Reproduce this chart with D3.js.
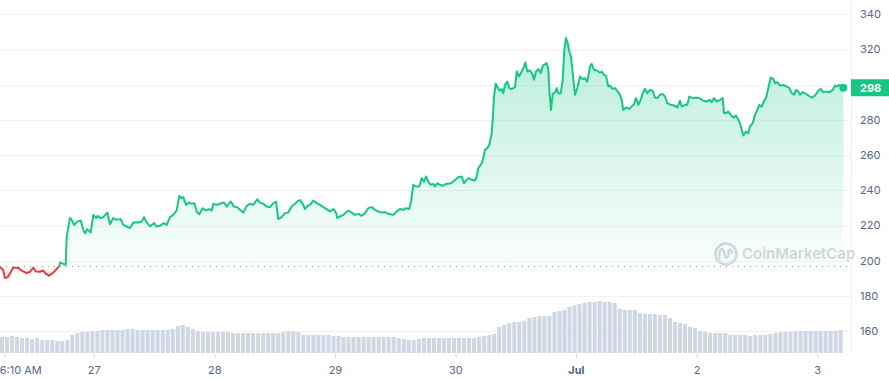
<!DOCTYPE html>
<html><head><meta charset="utf-8">
<script src="https://cdn.jsdelivr.net/npm/d3@7"></script>
<style>
html,body{margin:0;padding:0;background:#fff;overflow:hidden}
svg{display:block;font-family:Inter,"Noto Sans",sans-serif}
</style>
</head><body>
<svg id="chart" width="889" height="380"></svg>
<script>
// ---- data ----
const startTime = "2023-06-26T05:19";
const endTime = "2023-07-03T05:14";
const openPrice = 196.8;
const priceHours = [0,0.6,1,1.65,2.65,3.64,4.32,5.32,5.97,6.63,7.17,7.96,8.62,8.96,9.82,10.61,11.29,11.81,11.95,12.6,13.08,13.28,13.94,14.28,14.73,15.39,16.07,16.59,16.93,17.38,18.06,18.58,19.12,19.45,19.91,20.57,21.37,21.9,22.56,23.24,24.03,24.55,25.23,25.89,26.54,27.54,28.22,28.67,29.21,29.87,30.66,31.2,31.86,32.52,33.19,33.85,34.51,35.18,35.7,36.18,36.5,37.04,37.69,38.17,38.69,39.17,39.69,40.36,41.02,41.68,42.15,42.47,43.15,43.81,44.6,45.14,45.94,46.59,47.25,47.79,48.45,49.12,49.78,50.44,51.23,51.77,52.43,53.11,53.76,54.3,54.96,55.42,56.09,56.75,57.41,58.08,58.74,59.4,59.74,60.39,60.73,61.19,61.73,62.38,63.06,63.72,64.38,65.05,65.71,66.37,66.9,67.16,67.7,68.36,69.35,70.03,70.69,71.35,72.02,72.68,73.34,74.01,74.67,75.33,76,76.66,77.32,78.31,78.99,79.65,80.31,80.84,81.5,81.84,82.3,82.83,83.49,83.97,84.43,84.83,85.28,85.76,86.28,86.62,87.08,87.61,88.15,88.81,89.6,90.26,91.26,91.93,92.39,92.93,93.25,93.92,94.58,94.92,95.24,95.92,96.24,96.57,97.03,97.43,97.91,98.11,98.37,98.7,99.02,99.42,99.9,100.22,100.55,101.01,101.41,101.89,102.55,102.89,103.34,103.88,104.34,104.6,104.99,105.53,106.07,106.33,106.73,107.19,107.66,108.06,108.86,109.18,109.38,109.72,110.05,110.51,110.85,111.17,111.65,112.05,112.36,112.7,113.04,113.36,113.7,114.04,114.49,114.95,115.49,116.03,116.49,116.94,117.48,117.82,118.28,118.81,119.47,119.81,120.27,120.67,121.12,121.46,121.99,122.46,122.91,123.45,123.79,124.11,124.65,125.31,125.78,126.24,126.64,127.1,127.58,127.97,128.43,128.89,129.43,129.96,130.42,130.88,131.42,131.96,132.42,132.87,133.55,134.21,134.87,135.4,135.74,136.4,136.86,137.26,137.93,138.59,139.25,140.04,140.72,141.38,141.71,142.17,142.71,143.37,143.9,144.16,144.56,145.02,145.5,146.01,146.55,147.01,147.35,147.69,148.01,148.54,149,149.34,149.88,150.34,150.8,151.19,151.67,152.13,152.53,152.99,153.46,153.98,154.32,154.78,155.31,155.97,156.65,157.17,157.64,158.1,158.5,158.96,159.3,159.83,160.29,160.95,161.63,162.28,162.94,163.42,163.94,164.47,165.13,165.81,166.26,166.6,167.12,167.6,167.92];
const priceValues = [196.6,194.9,190.2,191.1,196.2,195.9,194.5,193.0,193.8,196.2,193.9,193.8,194.5,193.0,191.5,193.4,195.3,197.2,199.0,198.3,197.7,213.8,224.3,223.3,220.4,222.3,222.9,217.6,215.7,218.0,216.1,226.1,224.3,225.6,224.3,224.8,227.4,220.8,224.3,223.3,223.7,220.4,219.5,218.6,221.8,221.8,222.3,224.8,221.8,219.6,221.4,219.5,219.9,221.4,220.4,224.8,226.1,228.6,236.9,235.6,236.2,231.8,233.1,232.4,232.8,228.0,226.5,229.9,228.6,229.4,228.6,232.4,231.8,232.4,233.1,230.8,233.7,230.8,230.5,229.0,227.4,231.2,232.4,231.8,235.0,233.1,232.4,230.8,230.5,232.4,233.7,223.7,224.8,227.1,227.4,230.8,232.4,234.2,234.5,231.8,229.4,231.2,231.8,234.2,232.8,231.8,230.5,229.4,228.0,229.4,227.4,224.3,225.2,226.1,228.6,227.4,226.1,226.7,225.6,227.1,229.9,230.5,229.0,228.0,227.4,227.7,226.7,226.1,228.0,229.4,229.0,229.9,229.4,233.7,243.2,242.2,242.2,247.0,245.0,247.9,245.0,243.2,243.7,242.2,244.1,243.2,242.6,243.7,243.9,245.0,247.5,247.9,244.1,246.0,247.0,246.0,245.6,247.9,252.6,255.5,258.3,263.0,264.0,265.9,272.5,280.1,293.3,300.5,299.0,296.7,297.5,295.2,299.9,301.8,298.1,297.5,298.6,307.5,304.7,307.5,310.3,312.6,307.5,308.1,305.6,302.8,307.5,308.9,306.6,310.7,312.3,308.5,297.1,285.7,294.8,295.6,298.1,295.2,295.2,302.8,319.8,326.5,323.6,318.9,316.0,306.6,294.3,298.1,304.7,303.2,303.7,301.8,310.3,311.9,308.5,308.1,306.8,307.5,305.6,305.2,299.0,299.5,297.7,298.1,296.5,294.3,291.4,285.7,287.1,286.3,287.6,289.0,292.4,288.6,291.4,295.2,297.7,295.2,297.1,296.5,292.7,292.4,294.3,294.7,293.3,289.6,288.6,288.2,287.1,290.9,287.6,288.6,288.6,293.3,292.4,292.7,292.4,290.9,290.5,291.4,290.1,292.4,290.5,291.4,292.4,283.9,283.9,284.8,282.9,281.4,282.5,280.1,278.2,274.4,271.2,273.4,272.5,276.3,278.2,282.9,285.7,288.6,287.6,290.9,292.4,298.1,304.1,303.3,300.9,301.5,299.5,299.9,299.0,298.1,295.2,294.3,297.1,296.1,294.3,295.8,295.2,293.9,292.7,293.9,296.5,297.7,295.8,296.1,295.8,297.1,299.5,299.0,299.9,299.0,298.3];
// hourly volume (relative units)
const volumeValues = [16,16,17,16,15,15,14,15,13,13,13,12,12,13,18,20,21,21,22,22,23,23,23,23,23,24,24,23,23,23,23,23,23,23,24,27,28,26,24,22,21,21,21,21,21,21,20,20,20,20,20,20,20,20,20,20,21,22,22,21,18,18,18,18,18,18,17,17,16,16,16,16,16,16,16,16,16,16,16,15,14,13,13,14,15,15,15,15,15,15,15,15,15,15,15,16,17,18,19,26,28,30,31,31,32,35,36,37,37,37,41,42,43,46,48,49,50,51,51,52,51,51,50,44,43,43,43,40,39,39,39,38,38,35,31,30,29,26,25,22,21,20,20,20,20,18,18,18,18,17,18,18,18,19,20,21,21,21,22,22,22,22,22,22,22,22,22,23];
const yTickValues = [160,180,200,220,240,260,280,300,320,340];
const xTickTimes = ["2023-06-26T06:10","2023-06-27T00:00","2023-06-28T00:00","2023-06-29T00:00","2023-06-30T00:00","2023-07-01T00:00","2023-07-02T00:00","2023-07-03T00:00"];
const xTickLabels = ["6:10 AM","27","28","29","30","Jul","2","3"];
const watermarkText = "CoinMarketCap";

// ---- setup ----
const W = 889, H = 380;
const plotRight = 851, volBase = 353;
const GREEN = "#16c784", RED = "#ea3943";
const parse = d3.timeParse("%Y-%m-%dT%H:%M");
const t0 = parse(startTime), t1 = parse(endTime);
const HOUR = 3600e3;
const x = d3.scaleTime().domain([t0, t1]).range([0, 843.3]);
const y = d3.scaleLinear().domain([160, 340]).range([331.3, 14.3]);
const yVol = d3.scaleLinear().domain([0, 100]).range([volBase, volBase - 100]);

const data = priceHours.map((h, i) => ({t: new Date(+t0 + h * HOUR), v: priceValues[i]}));
const vols = volumeValues.map((v, i) => ({t: new Date(+t0 + i * HOUR), v}));

const svg = d3.select("#chart");
const defs = svg.append("defs");
const yOpen = y(openPrice);

defs.append("clipPath").attr("id","clipUp").append("rect")
  .attr("x",-5).attr("y",0).attr("width",plotRight+5).attr("height",yOpen);
defs.append("clipPath").attr("id","clipDown").append("rect")
  .attr("x",-5).attr("y",yOpen).attr("width",plotRight+5).attr("height",H-yOpen);

const gUp = defs.append("linearGradient").attr("id","gUp")
  .attr("gradientUnits","userSpaceOnUse").attr("x1",0).attr("x2",0).attr("y1",y(326)).attr("y2",yOpen);
gUp.append("stop").attr("offset",0).attr("stop-color",GREEN).attr("stop-opacity",0.3);
gUp.append("stop").attr("offset",1).attr("stop-color",GREEN).attr("stop-opacity",0.02);
const gDown = defs.append("linearGradient").attr("id","gDown")
  .attr("gradientUnits","userSpaceOnUse").attr("x1",0).attr("x2",0).attr("y1",yOpen).attr("y2",y(188));
gDown.append("stop").attr("offset",0).attr("stop-color",RED).attr("stop-opacity",0.02);
gDown.append("stop").attr("offset",1).attr("stop-color",RED).attr("stop-opacity",0.15);

// gridlines
svg.append("g").selectAll("line").data(yTickValues).join("line")
  .attr("x1",0).attr("x2",plotRight)
  .attr("y1",d=>Math.round(y(d))+0.5).attr("y2",d=>Math.round(y(d))+0.5)
  .attr("stroke","#eff2f5").attr("stroke-width",1);

// right axis border line
svg.append("line").attr("x1",plotRight+0.5).attr("x2",plotRight+0.5)
  .attr("y1",0).attr("y2",volBase).attr("stroke","#eceff3");

// volume bars
const barW = x(new Date(+t0 + HOUR)) - x(t0);
svg.append("g").selectAll("rect").data(vols).join("rect")
  .attr("x",d=>x(d.t)).attr("width",barW-1)
  .attr("y",d=>yVol(d.v)).attr("height",d=>volBase-yVol(d.v))
  .attr("fill","#cfd6e4");

// watermark
const wm = svg.append("g").attr("transform","translate(-24,0)");
wm.append("circle").attr("cx",750).attr("cy",254).attr("r",10.5)
  .attr("fill","none").attr("stroke","#d3d8e1").attr("stroke-width",2.6);
wm.append("path").attr("d","M743.5,258 L743.5,252 Q746,246 748,252 L749.5,257 Q751,259 752.5,256 L752.5,251 Q754.5,247 756.5,253")
  .attr("fill","none").attr("stroke","#d3d8e1").attr("stroke-width",2.4).attr("stroke-linecap","round").attr("stroke-linejoin","round");
wm.append("text").attr("x",766).attr("y",254).attr("dy","0.35em")
  .attr("font-size",15).attr("font-weight",600).attr("fill","#d3d8e1").text(watermarkText);

// areas
const area = d3.area().x(d=>x(d.t)).y0(yOpen).y1(d=>y(d.v));
svg.append("path").datum(data).attr("d",area).attr("fill","url(#gUp)").attr("clip-path","url(#clipUp)");
svg.append("path").datum(data).attr("d",area).attr("fill","url(#gDown)").attr("clip-path","url(#clipDown)");

// open price dotted line
svg.append("line").attr("x1",0).attr("x2",plotRight).attr("y1",yOpen).attr("y2",yOpen)
  .attr("stroke","#8a94a6").attr("stroke-width",1).attr("stroke-dasharray","1,5");

// lines
const line = d3.line().x(d=>x(d.t)).y(d=>y(d.v));
svg.append("path").datum(data).attr("d",line).attr("fill","none").attr("stroke",GREEN)
  .attr("stroke-width",2).attr("stroke-linejoin","round").attr("clip-path","url(#clipUp)");
svg.append("path").datum(data).attr("d",line).attr("fill","none").attr("stroke",RED)
  .attr("stroke-width",2).attr("stroke-linejoin","round").attr("clip-path","url(#clipDown)");

// end dot
const last = data[data.length-1];
svg.append("circle").attr("cx",x(last.t)).attr("cy",y(last.v)).attr("r",4).attr("fill",GREEN);

// y labels
const boxY = y(last.v);
svg.append("g").selectAll("text").data(yTickValues.filter(v=>Math.abs(y(v)-boxY)>9)).join("text")
  .attr("x",860).attr("y",d=>y(d)).attr("dy","0.35em")
  .attr("font-size",11).attr("fill","#58667e").text(d=>d);

// current price box
svg.append("rect").attr("x",plotRight).attr("y",boxY-8.5).attr("width",W-plotRight).attr("height",17).attr("fill",GREEN);
svg.append("text").attr("x",860).attr("y",boxY).attr("dy","0.35em")
  .attr("font-size",11).attr("font-weight",700).attr("fill","#fff").text(d3.format(".0f")(Math.floor(last.v)));

// x axis
const tickDates = xTickTimes.map(parse);
const xAxis = d3.axisBottom(x).tickValues(tickDates).tickSize(4).tickPadding(9)
  .tickFormat((d,i)=>xTickLabels[i]);
const gx = svg.append("g").attr("transform",`translate(0,${volBase+0.5})`).call(xAxis);
gx.select(".domain").remove();
gx.selectAll(".tick line").attr("stroke","#cfd6e4");
gx.selectAll(".tick text").attr("font-size",11).attr("fill","#58667e")
  .attr("font-family","Inter,'Noto Sans',sans-serif")
  .attr("font-weight",(d,i)=>xTickLabels[i]==="Jul"?700:400);
gx.selectAll(".tick").filter((d,i)=>i===0).select("text").attr("text-anchor","start").attr("x",-5);
</script>
</body></html>
